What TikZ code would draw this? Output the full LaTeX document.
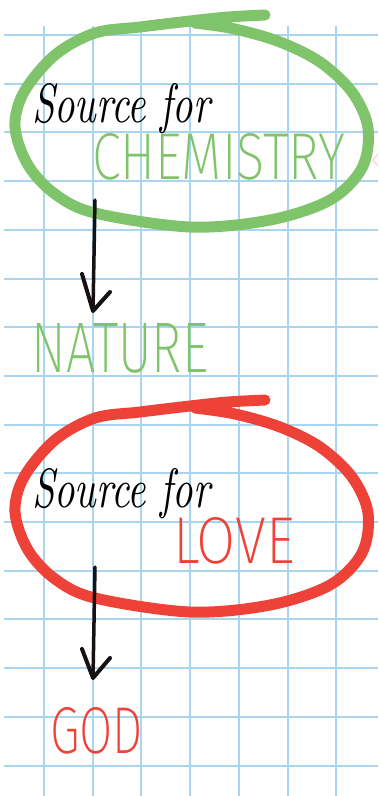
\documentclass[tikz,border=0pt]{standalone}
\usepackage{fontspec}
\usepackage{graphicx}
\newfontfamily\thinsans{Fira Sans ExtraLight}
\definecolor{gridblue}{HTML}{A9D5F0}
\definecolor{mygreen}{HTML}{7FC46A}
\definecolor{myred}{HTML}{EE4238}
\definecolor{ink}{HTML}{161213}
\begin{document}
\begin{tikzpicture}[x=1pt,y=-1pt,
  gridline/.style={gridblue, line width=2pt},
  ringstroke/.style={draw=#1, line width=11pt, line cap=round, line join=round},
  txt/.style={anchor=base west, inner sep=0pt, outer sep=0pt},
  arrowline/.style={ink, line width=3.5pt, line cap=round},
  arrowhead/.style={ink, line width=4pt, line cap=round, line join=round}]
\useasboundingbox (0,0) rectangle (378,796);
\fill[white] (0,0) rectangle (378,796);
% grid
\foreach \i in {0,...,15} \draw[gridline] (4,{35+48.7*\i}) -- (378,{35+48.7*\i});
\foreach \j in {0,...,6} \draw[gridline] ({44+48.7*\j},26) -- ({44+48.7*\j},796);
% faint pink mark
\draw[pink!60, line width=1.5pt, line cap=round] (378,154) -- (373,160) -- (378,166);
% hand-drawn rings (green, red)
\foreach \col/\dy/\nm in {mygreen/0/ring1, myred/385/ring2}{
  \begin{scope}[shift={(0,\dy)}]
    \coordinate (\nm) at (191,128);
    \draw[ringstroke=\col] plot[smooth, tension=0.55] coordinates {
      (265,15) (228,17) (190,21) (140,27) (95,33) (55,55) (24,92) (15,127)
      (28,165) (55,194) (95,213) (190,227) (270,220) (330,200) (362,168)
      (368,128) (352,92) (320,62) (280,42) (235,29) (195,23)};
  \end{scope}
}
% texts
\node[txt] (src1) at (32,122) {\resizebox{178pt}{39pt}{\itshape Source for}};
\node[txt, text=mygreen] (chem) at (92,179) {\resizebox{253pt}{46pt}{\thinsans CHEMISTRY}};
\node[txt, text=mygreen] (nature) at (32,372) {\resizebox{176pt}{49pt}{\thinsans NATURE}};
\node[txt] (src2) at (32,507) {\resizebox{178pt}{39pt}{\itshape Source for}};
\node[txt, text=myred] (love) at (173,563) {\resizebox{122pt}{46pt}{\thinsans LOVE}};
\node[txt, text=myred] (god) at (50,753) {\resizebox{93pt}{46pt}{\thinsans GOD}};
% arrows
\coordinate (a1s) at (95,200);
\coordinate (a1e) at (93,311);
\draw[arrowline] (a1s) -- (a1e);
\draw[arrowhead] ([shift={(-11,-37)}]a1e) -- (a1e) -- ([shift={(17,-19)}]a1e);
\coordinate (a2s) at (95,567);
\coordinate (a2e) at (93,678);
\draw[arrowline] (a2s) -- (a2e);
\draw[arrowhead] ([shift={(-11,-29)}]a2e) -- (a2e) -- ([shift={(17,-20)}]a2e);
\end{tikzpicture}
\end{document}
